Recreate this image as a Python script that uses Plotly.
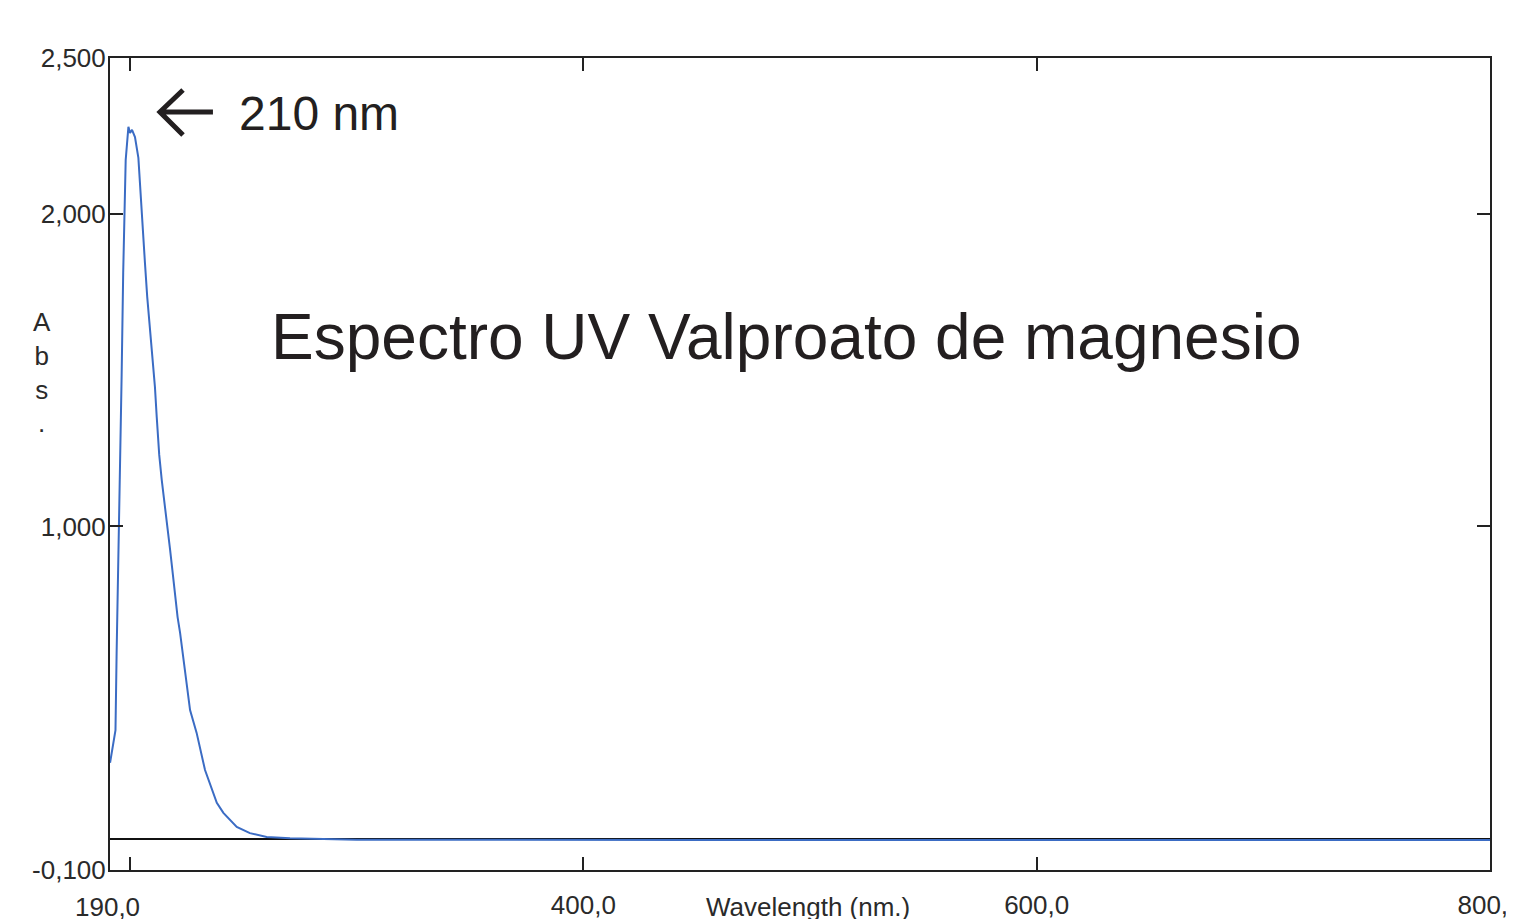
import plotly.graph_objects as go

# ---- data ----
wavelength_nm = [191.2, 192.1, 193.6, 194.1, 195.3, 196.3, 197.0, 198.1, 199.3, 200.0,
                 200.9, 202.2, 203.7, 204.4, 205.6, 206.6, 207.6, 208.8, 210.0, 211.0,
                 211.8, 212.9, 214.0, 215.4, 216.6, 217.7, 218.7, 219.9, 221.0, 222.1,
                 223.5, 225.0, 226.5, 229.4, 233.1, 238.3, 241.2, 247.1, 252.9, 260.3,
                 270.6, 300.0, 350.0, 400.0, 450.0, 500.0, 550.0, 600.0, 650.0, 700.0,
                 750.0, 800.0]
absorbance = [0.243, 0.284, 0.348, 0.595, 1.043, 1.479, 1.812, 2.173, 2.280, 2.260,
              2.270, 2.247, 2.180, 2.093, 1.940, 1.844, 1.735, 1.635, 1.539, 1.447,
              1.350, 1.229, 1.149, 1.069, 0.989, 0.925, 0.860, 0.771, 0.710, 0.659,
              0.579, 0.499, 0.412, 0.339, 0.220, 0.115, 0.083, 0.038, 0.018, 0.006,
              0.002, -0.003, -0.004, -0.004, -0.004, -0.004, -0.004, -0.004, -0.004, -0.004,
              -0.004, -0.004]

x_tick_vals = [200, 400, 600, 800]
x_tick_text = ["", "400,0", "600,0", "800,0"]
x_first_label = "190,0"
y_tick_vals = [-0.1, 1.0, 2.0, 2.5]
y_tick_text = ["-0,100", "1,000", "2,000", "2,500"]

title_text = "Espectro UV Valproato de magnesio"
peak_text = "210 nm"
x_title = "Wavelength (nm.)"
y_title = "A<br>b<br>s<br>."

FONT = "Liberation Sans, Arial, sans-serif"
tick_font = dict(family=FONT, size=26, color="#2a2a2a")

fig = go.Figure()
fig.add_trace(go.Scatter(
    x=wavelength_nm, y=absorbance, mode="lines",
    line=dict(color="#3b6cc4", width=2), showlegend=False, hoverinfo="skip"))

fig.update_xaxes(
    range=[191.18, 800], tickvals=x_tick_vals, ticktext=x_tick_text,
    ticks="inside", ticklen=13, tickwidth=2, tickcolor="#222",
    showline=True, linecolor="#222", linewidth=2, mirror="ticks",
    showgrid=False, zeroline=False, tickfont=tick_font, automargin=False,
    ticklabelstandoff=11, ticklabeloverflow="allow")
fig.update_yaxes(
    range=[-0.1, 2.5], tickvals=y_tick_vals, ticktext=y_tick_text,
    ticks="inside", ticklen=13, tickwidth=2, tickcolor="#222",
    showline=True, linecolor="#222", linewidth=2, mirror="ticks",
    showgrid=False, zeroline=True, zerolinecolor="#111", zerolinewidth=2,
    tickfont=tick_font, automargin=False,
    ticklabelstandoff=-3, ticklabeloverflow="allow")

# first x label and axis titles
fig.add_annotation(x=-0.0015, y=0, xref="paper", yref="paper", yshift=-20,
                   text=x_first_label, showarrow=False, xanchor="center", yanchor="top",
                   font=tick_font)
fig.add_annotation(x=0.506, y=0, xref="paper", yref="paper", yshift=-20,
                   text=x_title, showarrow=False, xanchor="center", yanchor="top",
                   font=tick_font)
fig.add_annotation(x=0, y=0.613, xref="paper", yref="paper", xshift=-68,
                   text=y_title, showarrow=False, xanchor="center", yanchor="middle",
                   font=dict(family=FONT, size=26, color="#2a2a2a"))

# title inside plot
fig.add_annotation(x=0.490, y=0.656, xref="paper", yref="paper",
                   text=title_text, showarrow=False, xanchor="center", yanchor="middle",
                   font=dict(family=FONT, size=64, color="#231f20"))
# peak label with arrow
fig.add_annotation(x=0.092, y=0.932, xref="paper", yref="paper",
                   text=peak_text, showarrow=False, xanchor="left", yanchor="middle",
                   font=dict(family=FONT, size=48, color="#231f20"))
arrow_col = "#231f20"
fig.add_shape(type="path", xref="paper", yref="paper",
              path="M 0.0529 0.9606 L 0.0362 0.9335 L 0.0529 0.9052 M 0.0362 0.9335 L 0.0746 0.9335",
              line=dict(color=arrow_col, width=5))

fig.update_layout(
    width=1506, height=911,
    margin=dict(l=102, r=24, t=50, b=49, autoexpand=False),
    paper_bgcolor="white", plot_bgcolor="white")

fig.write_html("out.html")
